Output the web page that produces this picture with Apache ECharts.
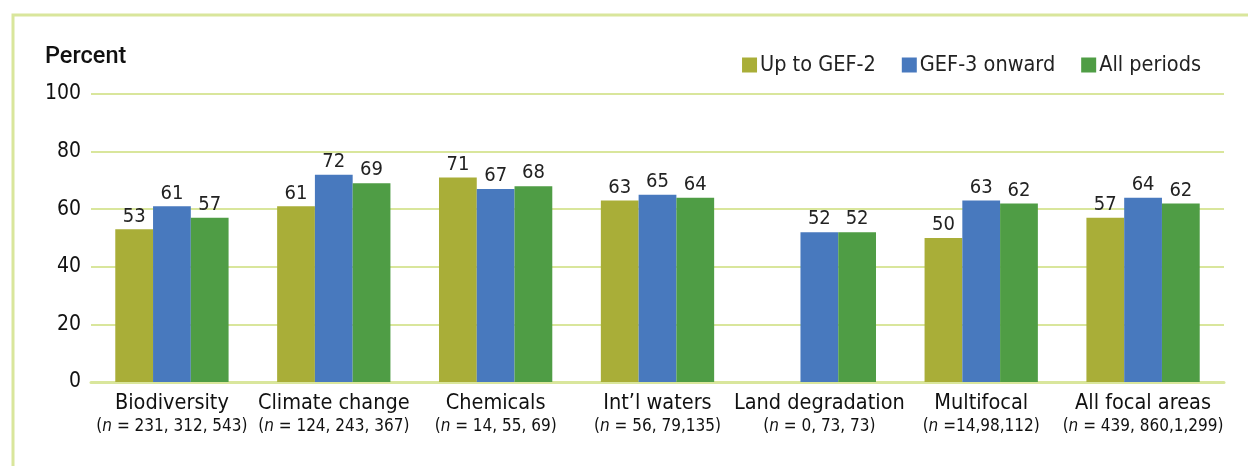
<!DOCTYPE html>
<html>
<head>
<meta charset="utf-8">
<script src="https://cdn.jsdelivr.net/npm/echarts@6/dist/echarts.min.js"></script>
<style>
  html, body { margin: 0; padding: 0; background: #fff; overflow: hidden; }
  #chart { width: 1248px; height: 466px; }
</style>
</head>
<body>
<div id="chart"></div>
<script>
// focal areas and their sample sizes (text after "n")
const categories = ['Biodiversity', 'Climate change', 'Chemicals', 'Int\u2019l waters', 'Land degradation', 'Multifocal', 'All focal areas']
const sampleSizes = [' = 231, 312, 543', ' = 124, 243, 367', ' = 14, 55, 69', ' = 56, 79,135', ' = 0, 73, 73', ' =14,98,112', ' = 439, 860,1,299']

// percent values per period
const upToGef2 = [53, 61, 71, 63, null, 50, 57]
const gef3Onward = [61, 72, 67, 65, 52, 63, 64]
const allPeriods = [57, 69, 68, 64, 52, 62, 62]

const yTicks = [0, 20, 40, 60, 80, 100]

const FONT = '"DejaVu Sans Condensed", "DejaVu Sans", sans-serif'
const GRID_COLOR = '#d9e69c'

const chart = echarts.init(document.getElementById('chart'))

function barSeries(name, data, color) {
  return {
    name: name,
    type: 'bar',
    data: data,
    barGap: 0,
    barCategoryGap: '30%',
    itemStyle: { color: color },
    label: {
      show: true,
      position: 'top',
      distance: 3,
      color: '#222',
      fontSize: 20,
      fontFamily: FONT
    }
  }
}

chart.setOption({
  animation: false,
  textStyle: { fontFamily: FONT },
  graphic: [
    {
      // frame around the figure (left and top edges visible)
      type: 'polyline',
      shape: { points: [[13, 480], [13, 15], [1260, 15]] },
      style: { fill: null, stroke: GRID_COLOR, lineWidth: 3 },
      silent: true
    },
    {
      type: 'text',
      left: 45,
      top: 45,
      style: { text: 'Percent', fontSize: 23.5, fontWeight: 500, fill: '#111', fontFamily: 'Roboto, sans-serif' }
    }
  ],
  legend: {
    top: 49,
    right: 42,
    itemWidth: 15,
    itemHeight: 15,
    itemGap: 26,
    icon: 'rect',
    textStyle: { fontSize: 21.5, color: '#222', padding: [0, 0, 0, -2], fontFamily: FONT },
    data: ['Up to GEF-2', 'GEF-3 onward', 'All periods']
  },
  grid: { left: 91, right: 24, top: 94, bottom: 84, containLabel: false },
  xAxis: {
    type: 'category',
    data: categories,
    axisTick: { show: false },
    axisLine: { lineStyle: { color: GRID_COLOR, width: 3 } },
    axisLabel: {
      interval: 0,
      margin: 9,
      formatter: (v, i) => '{name|' + v + '}\n{p|(}{n|n}{p|' + sampleSizes[i] + ')}',
      rich: {
        name: { fontSize: 21.5, color: '#111', lineHeight: 24, fontFamily: FONT },
        p: { fontSize: 17, color: '#111', lineHeight: 24, fontFamily: FONT },
        n: { fontSize: 17, color: '#111', lineHeight: 24, fontStyle: 'italic', fontFamily: FONT }
      }
    }
  },
  yAxis: {
    type: 'value',
    min: yTicks[0],
    max: yTicks[yTicks.length - 1],
    interval: 20,
    axisLine: { show: false },
    axisTick: { show: false },
    axisLabel: { fontSize: 21, color: '#111', margin: 10, fontFamily: FONT },
    splitLine: { lineStyle: { color: GRID_COLOR, width: 2 } }
  },
  series: [
    barSeries('Up to GEF-2', upToGef2, '#a9ae38'),
    barSeries('GEF-3 onward', gef3Onward, '#4879be'),
    barSeries('All periods', allPeriods, '#4f9d45')
  ]
})
</script>
</body>
</html>
